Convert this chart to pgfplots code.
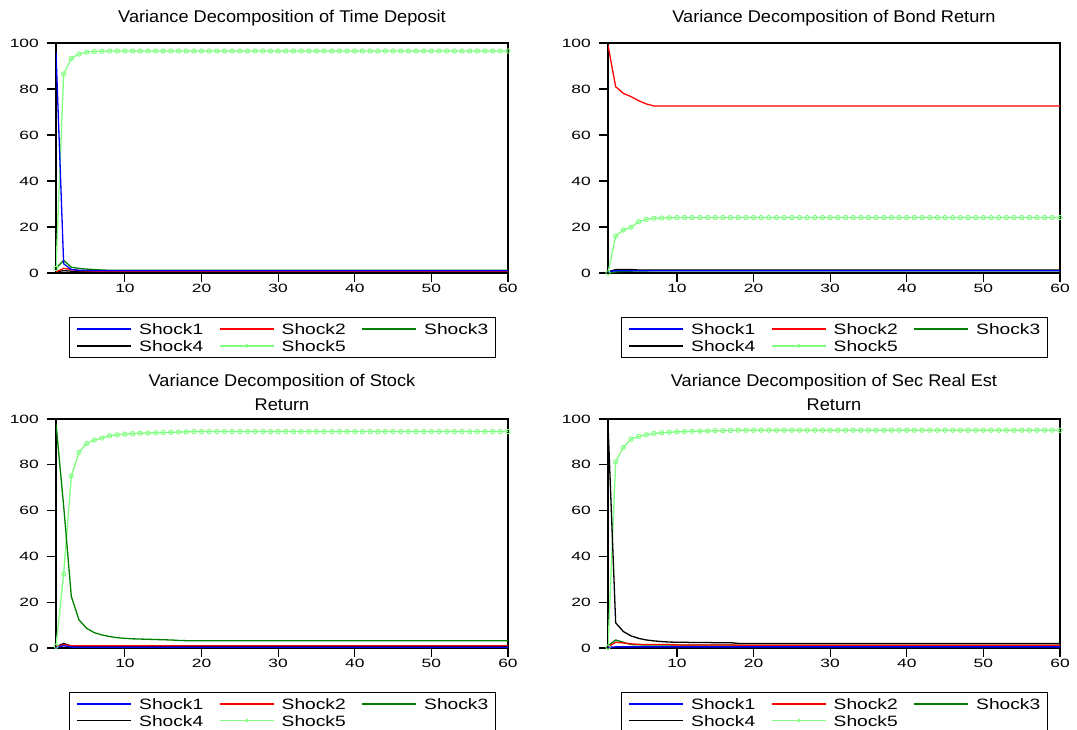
\documentclass[border=0pt]{standalone}
\usepackage{fontspec}
\setmainfont{Liberation Sans}
\newfontfamily\titlefont[FakeStretch=1.07]{Liberation Sans}
\newfontfamily\tickfont[FakeStretch=1.45]{Liberation Sans}
\newfontfamily\legfont[FakeStretch=1.28]{Liberation Sans}
\usepackage{pgfplots}
\usepackage{pgfplotstable}
\pgfplotsset{compat=1.18}

\definecolor{sgreen}{RGB}{0,128,0}
\definecolor{lgreen}{RGB}{128,255,128}

% periods 1..60, shares of forecast error variance (%)
\pgfplotstableread{
t s1 s2 s3 s4 s5
1 96.0 0.5 2.0 0.5 2.0
2 4.0 2.0 5.5 1.0 86.5
3 1.5 1.5 2.5 0.8 93.3
4 1.2 1.0 2.0 0.6 95.2
5 1.1 0.9 1.7 0.5 96.0
6 1.0 0.8 1.5 0.5 96.3
7 1.0 0.8 1.3 0.5 96.4
8 1.0 0.8 1.2 0.5 96.5
9 1.0 0.8 1.2 0.5 96.5
10 1.0 0.8 1.2 0.5 96.5
11 1.0 0.8 1.2 0.5 96.5
12 1.0 0.8 1.2 0.5 96.5
13 1.0 0.8 1.2 0.5 96.5
14 1.0 0.8 1.2 0.5 96.5
15 1.0 0.8 1.2 0.5 96.5
16 1.0 0.8 1.2 0.5 96.5
17 1.0 0.8 1.2 0.5 96.5
18 1.0 0.8 1.2 0.5 96.5
19 1.0 0.8 1.2 0.5 96.5
20 1.0 0.8 1.2 0.5 96.5
21 1.0 0.8 1.2 0.5 96.5
22 1.0 0.8 1.2 0.5 96.5
23 1.0 0.8 1.2 0.5 96.5
24 1.0 0.8 1.2 0.5 96.5
25 1.0 0.8 1.2 0.5 96.5
26 1.0 0.8 1.2 0.5 96.5
27 1.0 0.8 1.2 0.5 96.5
28 1.0 0.8 1.2 0.5 96.5
29 1.0 0.8 1.2 0.5 96.5
30 1.0 0.8 1.2 0.5 96.5
31 1.0 0.8 1.2 0.5 96.5
32 1.0 0.8 1.2 0.5 96.5
33 1.0 0.8 1.2 0.5 96.5
34 1.0 0.8 1.2 0.5 96.5
35 1.0 0.8 1.2 0.5 96.5
36 1.0 0.8 1.2 0.5 96.5
37 1.0 0.8 1.2 0.5 96.5
38 1.0 0.8 1.2 0.5 96.5
39 1.0 0.8 1.2 0.5 96.5
40 1.0 0.8 1.2 0.5 96.5
41 1.0 0.8 1.2 0.5 96.5
42 1.0 0.8 1.2 0.5 96.5
43 1.0 0.8 1.2 0.5 96.5
44 1.0 0.8 1.2 0.5 96.5
45 1.0 0.8 1.2 0.5 96.5
46 1.0 0.8 1.2 0.5 96.5
47 1.0 0.8 1.2 0.5 96.5
48 1.0 0.8 1.2 0.5 96.5
49 1.0 0.8 1.2 0.5 96.5
50 1.0 0.8 1.2 0.5 96.5
51 1.0 0.8 1.2 0.5 96.5
52 1.0 0.8 1.2 0.5 96.5
53 1.0 0.8 1.2 0.5 96.5
54 1.0 0.8 1.2 0.5 96.5
55 1.0 0.8 1.2 0.5 96.5
56 1.0 0.8 1.2 0.5 96.5
57 1.0 0.8 1.2 0.5 96.5
58 1.0 0.8 1.2 0.5 96.5
59 1.0 0.8 1.2 0.5 96.5
60 1.0 0.8 1.2 0.5 96.5
}\tdtab

\pgfplotstableread{
t s1 s2 s3 s4 s5
1 0.5 99.0 0.0 0.5 0.0
2 1.0 81.0 0.5 1.5 16.1
3 1.0 78.1 0.7 1.5 18.7
4 1.0 76.7 0.8 1.5 19.9
5 1.0 74.9 0.9 1.3 22.3
6 1.0 73.5 0.9 1.3 23.3
7 1.0 72.6 1.0 1.3 23.8
8 1.0 72.6 1.0 1.3 23.9
9 1.0 72.6 1.0 1.3 24.0
10 1.0 72.6 1.0 1.3 24.1
11 1.0 72.6 1.0 1.3 24.1
12 1.0 72.6 1.0 1.3 24.1
13 1.0 72.6 1.0 1.3 24.1
14 1.0 72.6 1.0 1.3 24.1
15 1.0 72.6 1.0 1.3 24.1
16 1.0 72.6 1.0 1.3 24.1
17 1.0 72.6 1.0 1.3 24.1
18 1.0 72.6 1.0 1.3 24.1
19 1.0 72.6 1.0 1.3 24.1
20 1.0 72.6 1.0 1.3 24.1
21 1.0 72.6 1.0 1.3 24.1
22 1.0 72.6 1.0 1.3 24.1
23 1.0 72.6 1.0 1.3 24.1
24 1.0 72.6 1.0 1.3 24.1
25 1.0 72.6 1.0 1.3 24.1
26 1.0 72.6 1.0 1.3 24.1
27 1.0 72.6 1.0 1.3 24.1
28 1.0 72.6 1.0 1.3 24.1
29 1.0 72.6 1.0 1.3 24.1
30 1.0 72.6 1.0 1.3 24.1
31 1.0 72.6 1.0 1.3 24.1
32 1.0 72.6 1.0 1.3 24.1
33 1.0 72.6 1.0 1.3 24.1
34 1.0 72.6 1.0 1.3 24.1
35 1.0 72.6 1.0 1.3 24.1
36 1.0 72.6 1.0 1.3 24.1
37 1.0 72.6 1.0 1.3 24.1
38 1.0 72.6 1.0 1.3 24.1
39 1.0 72.6 1.0 1.3 24.1
40 1.0 72.6 1.0 1.3 24.1
41 1.0 72.6 1.0 1.3 24.1
42 1.0 72.6 1.0 1.3 24.1
43 1.0 72.6 1.0 1.3 24.1
44 1.0 72.6 1.0 1.3 24.1
45 1.0 72.6 1.0 1.3 24.1
46 1.0 72.6 1.0 1.3 24.1
47 1.0 72.6 1.0 1.3 24.1
48 1.0 72.6 1.0 1.3 24.1
49 1.0 72.6 1.0 1.3 24.1
50 1.0 72.6 1.0 1.3 24.1
51 1.0 72.6 1.0 1.3 24.1
52 1.0 72.6 1.0 1.3 24.1
53 1.0 72.6 1.0 1.3 24.1
54 1.0 72.6 1.0 1.3 24.1
55 1.0 72.6 1.0 1.3 24.1
56 1.0 72.6 1.0 1.3 24.1
57 1.0 72.6 1.0 1.3 24.1
58 1.0 72.6 1.0 1.3 24.1
59 1.0 72.6 1.0 1.3 24.1
60 1.0 72.6 1.0 1.3 24.1
}\brtab

\pgfplotstableread{
t s1 s2 s3 s4 s5
1 0.2 0.5 98.0 0.5 0.8
2 1.0 1.5 62.0 2.0 32.3
3 0.4 1.0 22.5 0.8 75.1
4 0.3 1.0 12.3 0.6 85.4
5 0.3 1.0 8.6 0.5 89.3
6 0.3 1.0 6.7 0.5 90.8
7 0.3 1.0 5.7 0.5 91.7
8 0.3 1.0 5.0 0.5 92.7
9 0.3 1.0 4.5 0.5 93.1
10 0.3 1.0 4.2 0.5 93.4
11 0.3 1.0 4.0 0.5 93.6
12 0.3 1.0 3.9 0.5 93.8
13 0.3 1.0 3.8 0.5 93.9
14 0.3 1.0 3.7 0.5 94.0
15 0.3 1.0 3.6 0.5 94.1
16 0.3 1.0 3.5 0.5 94.2
17 0.3 1.0 3.3 0.5 94.3
18 0.3 1.0 3.2 0.5 94.4
19 0.3 1.0 3.2 0.5 94.5
20 0.3 1.0 3.2 0.5 94.5
21 0.3 1.0 3.2 0.5 94.5
22 0.3 1.0 3.2 0.5 94.5
23 0.3 1.0 3.2 0.5 94.5
24 0.3 1.0 3.2 0.5 94.5
25 0.3 1.0 3.2 0.5 94.5
26 0.3 1.0 3.2 0.5 94.5
27 0.3 1.0 3.2 0.5 94.5
28 0.3 1.0 3.2 0.5 94.5
29 0.3 1.0 3.2 0.5 94.5
30 0.3 1.0 3.2 0.5 94.5
31 0.3 1.0 3.2 0.5 94.5
32 0.3 1.0 3.2 0.5 94.5
33 0.3 1.0 3.2 0.5 94.5
34 0.3 1.0 3.2 0.5 94.5
35 0.3 1.0 3.2 0.5 94.5
36 0.3 1.0 3.2 0.5 94.5
37 0.3 1.0 3.2 0.5 94.5
38 0.3 1.0 3.2 0.5 94.5
39 0.3 1.0 3.2 0.5 94.5
40 0.3 1.0 3.2 0.5 94.5
41 0.3 1.0 3.2 0.5 94.5
42 0.3 1.0 3.2 0.5 94.5
43 0.3 1.0 3.2 0.5 94.5
44 0.3 1.0 3.2 0.5 94.5
45 0.3 1.0 3.2 0.5 94.5
46 0.3 1.0 3.2 0.5 94.5
47 0.3 1.0 3.2 0.5 94.5
48 0.3 1.0 3.2 0.5 94.5
49 0.3 1.0 3.2 0.5 94.5
50 0.3 1.0 3.2 0.5 94.5
51 0.3 1.0 3.2 0.5 94.5
52 0.3 1.0 3.2 0.5 94.5
53 0.3 1.0 3.2 0.5 94.5
54 0.3 1.0 3.2 0.5 94.5
55 0.3 1.0 3.2 0.5 94.5
56 0.3 1.0 3.2 0.5 94.5
57 0.3 1.0 3.2 0.5 94.5
58 0.3 1.0 3.2 0.5 94.5
59 0.3 1.0 3.2 0.5 94.5
60 0.3 1.0 3.2 0.5 94.5
}\srtab

\pgfplotstableread{
t s1 s2 s3 s4 s5
1 0.3 0.5 1.0 97.8 0.4
2 0.5 2.5 3.5 11.0 81.3
3 0.5 2.2 2.5 7.2 87.6
4 0.5 1.8 1.5 5.3 91.2
5 0.5 1.6 1.4 4.2 92.4
6 0.5 1.5 1.3 3.5 93.1
7 0.5 1.5 1.3 3.1 93.7
8 0.5 1.5 1.3 2.8 94.0
9 0.5 1.5 1.3 2.6 94.2
10 0.5 1.3 1.3 2.5 94.4
11 0.5 1.3 1.3 2.5 94.5
12 0.5 1.3 1.3 2.4 94.6
13 0.5 1.3 1.3 2.4 94.7
14 0.5 1.3 1.3 2.4 94.8
15 0.5 1.3 1.3 2.3 94.9
16 0.5 1.3 1.3 2.3 94.9
17 0.5 1.3 1.3 2.3 95.0
18 0.5 1.2 1.2 2.0 95.1
19 0.5 1.2 1.2 2.0 95.1
20 0.5 1.2 1.2 2.0 95.1
21 0.5 1.2 1.2 2.0 95.1
22 0.5 1.2 1.2 2.0 95.1
23 0.5 1.2 1.2 2.0 95.1
24 0.5 1.2 1.2 2.0 95.1
25 0.5 1.2 1.2 2.0 95.1
26 0.5 1.2 1.2 2.0 95.1
27 0.5 1.2 1.2 2.0 95.1
28 0.5 1.2 1.2 2.0 95.1
29 0.5 1.2 1.2 2.0 95.1
30 0.5 1.2 1.2 2.0 95.1
31 0.5 1.2 1.2 2.0 95.1
32 0.5 1.2 1.2 2.0 95.1
33 0.5 1.2 1.2 2.0 95.1
34 0.5 1.2 1.2 2.0 95.1
35 0.5 1.2 1.2 2.0 95.1
36 0.5 1.2 1.2 2.0 95.1
37 0.5 1.2 1.2 2.0 95.1
38 0.5 1.2 1.2 2.0 95.1
39 0.5 1.2 1.2 2.0 95.1
40 0.5 1.2 1.2 2.0 95.1
41 0.5 1.2 1.2 2.0 95.1
42 0.5 1.2 1.2 2.0 95.1
43 0.5 1.2 1.2 2.0 95.1
44 0.5 1.2 1.2 2.0 95.1
45 0.5 1.2 1.2 2.0 95.1
46 0.5 1.2 1.2 2.0 95.1
47 0.5 1.2 1.2 2.0 95.1
48 0.5 1.2 1.2 2.0 95.1
49 0.5 1.2 1.2 2.0 95.1
50 0.5 1.2 1.2 2.0 95.1
51 0.5 1.2 1.2 2.0 95.1
52 0.5 1.2 1.2 2.0 95.1
53 0.5 1.2 1.2 2.0 95.1
54 0.5 1.2 1.2 2.0 95.1
55 0.5 1.2 1.2 2.0 95.1
56 0.5 1.2 1.2 2.0 95.1
57 0.5 1.2 1.2 2.0 95.1
58 0.5 1.2 1.2 2.0 95.1
59 0.5 1.2 1.2 2.0 95.1
60 0.5 1.2 1.2 2.0 95.1
}\sretab

\newcommand\legtxt[1]{\hspace*{7pt}\makebox[64pt][l]{#1}}

\pgfplotsset{
  vd/.style={
    scale only axis, width=452pt,
    xmin=1, xmax=60, ymin=0, ymax=100,
    xtick={10,20,...,60}, ytick={0,20,...,100},
    tick pos=left, tick align=outside, major tick length=9pt,
    axis line style={line width=1.1pt},
    every tick/.style={black, line width=1.1pt},
    /pgf/number format/assume math mode=true,
    tick label style={font=\tickfont\fontsize{12}{13}\selectfont},
    xticklabel style={inner sep=2pt},
    yticklabel style={inner sep=2pt, xshift=-6pt},
    title style={font=\titlefont\fontsize{17}{24}\selectfont, align=center,
      at={(0.5,1)}, anchor=south, inner sep=0pt},
    legend columns=3,
    legend cell align=left,
    legend style={at={(0.029,-0.192)}, anchor=north west, draw=black,
      line width=1.2pt, font=\legfont\fontsize{15}{17}\selectfont,
      inner xsep=7pt, inner ysep=3pt,
      nodes={inner sep=0pt, text height=14pt, text depth=2.7pt},
      /tikz/every even column/.append style={column sep=16pt}},
    legend image code/.code={\draw[mark repeat=2,mark phase=2,#1]
      plot coordinates {(0pt,0pt)(27pt,0pt)(54pt,0pt)};},
  },
}

\newcommand\vdplots[1]{%
  \addplot[lgreen, line width=1.3pt, mark=o, mark size=2.2pt,
    mark options={solid, line width=0.9pt}, forget plot] table[x=t, y=s5] {#1};
  \addplot[sgreen, line width=1.3pt, forget plot] table[x=t, y=s3] {#1};
  \addplot[black, line width=1.3pt, forget plot] table[x=t, y=s4] {#1};
  \addplot[red, line width=1.3pt, forget plot] table[x=t, y=s2] {#1};
  \addplot[blue, line width=1.3pt, forget plot] table[x=t, y=s1] {#1};
  \addlegendimage{blue, line width=1.5pt}
  \addlegendimage{red, line width=1.5pt}
  \addlegendimage{sgreen, line width=1.5pt}
  \addlegendimage{black, line width=1.5pt}
  \addlegendimage{lgreen, line width=1.5pt, mark=o, mark size=1.5pt,
    mark options={solid, line width=0.8pt}}
  \legend{\legtxt{Shock1},\legtxt{Shock2},\legtxt{Shock3},\legtxt{Shock4},\legtxt{Shock5}}
}

\begin{document}
\begin{tikzpicture}
\useasboundingbox (0pt,0pt) rectangle (1077pt,730pt);

\begin{axis}[vd, at={(56pt,457pt)}, anchor=south west, height=230pt,
  title={Variance Decomposition of Time Deposit}, title style={yshift=11pt}]
\vdplots{\tdtab}
\end{axis}

\begin{axis}[vd, at={(608pt,457pt)}, anchor=south west, height=230pt,
  title={Variance Decomposition of Bond Return}, title style={yshift=11pt}]
\vdplots{\brtab}
\end{axis}

\begin{axis}[vd, at={(56pt,82pt)}, anchor=south west, height=229pt,
  title={Variance Decomposition of Stock\\Return}, title style={yshift=2pt}]
\vdplots{\srtab}
\end{axis}

\begin{axis}[vd, at={(608pt,82pt)}, anchor=south west, height=229pt,
  title={Variance Decomposition of Sec Real Est\\Return}, title style={yshift=2pt}]
\vdplots{\sretab}
\end{axis}
\end{tikzpicture}
\end{document}
